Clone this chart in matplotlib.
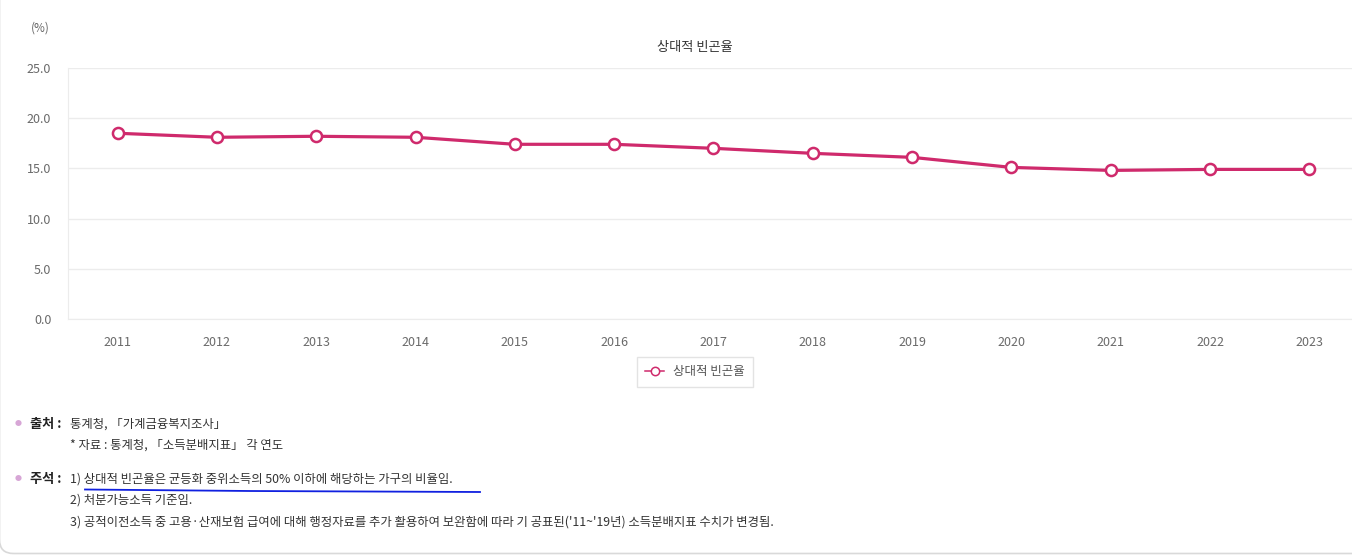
import numpy as np
import matplotlib
matplotlib.use("Agg")
import matplotlib.pyplot as plt
from matplotlib.patches import FancyBboxPatch
from matplotlib.transforms import IdentityTransform

plt.rcParams['font.family'] = ['Noto Sans CJK KR', 'DejaVu Sans']

years = ['2011', '2012', '2013', '2014', '2015', '2016', '2017',
         '2018', '2019', '2020', '2021', '2022', '2023']
poverty = [18.5, 18.1, 18.2, 18.1, 17.4, 17.4, 17.0,
           16.5, 16.1, 15.1, 14.8, 14.9, 14.9]
yticks = [0, 5, 10, 15, 20, 25]

W, H = 1352, 555
fig = plt.figure(figsize=(W / 100, H / 100), dpi=100)


def fx(x):
    return x / W


def fy(y):
    return 1 - y / H


# plot area in pixels: left 68, top 68, bottom 319
ax = fig.add_axes([fx(68), fy(319), fx(1352 - 68), (319 - 68) / H])
line_c = '#cf2a6c'
x = np.arange(len(years))
ax.plot(x, poverty, color=line_c, lw=2.3, marker='o', ms=8,
        mfc='white', mec=line_c, mew=1.8, label='상대적 빈곤율', zorder=3)

ax.set_xlim(-0.5, 12.43)
ax.set_ylim(0, 25)
ax.set_yticks(yticks)
ax.set_yticklabels([f'{v:.1f}' for v in yticks])
ax.set_xticks(x)
ax.set_xticklabels(years)
ax.grid(axis='y', color='#ececec', lw=1)
ax.set_axisbelow(True)
for s in ['top', 'right']:
    ax.spines[s].set_visible(False)
ax.spines['left'].set_color('#ececec')
ax.spines['bottom'].set_color('#ececec')
ax.tick_params(length=0, labelsize=9, colors='#6a6a6a')
ax.tick_params(axis='x', pad=12)
ax.tick_params(axis='y', pad=12)

fig.text(fx(40), fy(28), '(%)', ha='center', va='center', fontsize=8.5, color='#666666')
fig.text(fx(695), fy(48), '상대적 빈곤율', ha='center', va='center', fontsize=9.5, color='#333333')

leg = ax.legend(loc='center', bbox_to_anchor=(fx(695), fy(372)),
                bbox_transform=fig.transFigure, frameon=True, fancybox=False,
                fontsize=9, handlelength=1.5, markerscale=0.75,
                borderpad=0.7, handletextpad=0.7)
leg.get_frame().set_edgecolor('#dddddd')
leg.get_frame().set_linewidth(1)
for t in leg.get_texts():
    t.set_color('#555555')
for h in leg.legend_handles:
    h.set_linewidth(1.1)
    h.set_markeredgewidth(1.1)

# notes
bullet_c = '#d7a6d6'
txt_c = '#333333'
fig.text(fx(18), fy(424), '●', ha='center', va='center', fontsize=5, color=bullet_c)
fig.text(fx(30), fy(424), '출처 :', ha='left', va='center', fontsize=9.5,
         fontweight='bold', color='#222222')
fig.text(fx(70), fy(424), '통계청, 「가계금융복지조사」', ha='left', va='center',
         fontsize=8.9, color=txt_c)
fig.text(fx(70), fy(445), '* 자료 : 통계청, 「소득분배지표」 각 연도', ha='left',
         va='center', fontsize=8.9, color=txt_c)

fig.text(fx(18), fy(479), '●', ha='center', va='center', fontsize=5, color=bullet_c)
fig.text(fx(30), fy(479), '주석 :', ha='left', va='center', fontsize=9.5,
         fontweight='bold', color='#222222')
notes = ['1) 상대적 빈곤율은 균등화 중위소득의 50% 이하에 해당하는 가구의 비율임.',
         '2) 처분가능소득 기준임.',
         "3) 공적이전소득 중 고용·산재보험 급여에 대해 행정자료를 추가 활용하여 보완함에 따라 기 공표된('11~'19년) 소득분배지표 수치가 변경됨."]
for i, n in enumerate(notes):
    fig.text(fx(70), fy(479 + 21.5 * i), n, ha='left', va='center',
             fontsize=8.9, color=txt_c)

# hand-drawn blue underline
fig.add_artist(plt.Line2D([fx(85), fx(250), fx(480)], [fy(489.5), fy(491), fy(492)],
                          color='#1020e0', lw=1.3))

# card border (only bottom-left corner visible)
card = FancyBboxPatch((-0.5, 1.5), 1500, 700, boxstyle='round,pad=0,rounding_size=14',
                      transform=IdentityTransform(), fc='none', ec='#d9d9d9', lw=1.2)
fig.add_artist(card)

fig.savefig('out.png', dpi=100)
